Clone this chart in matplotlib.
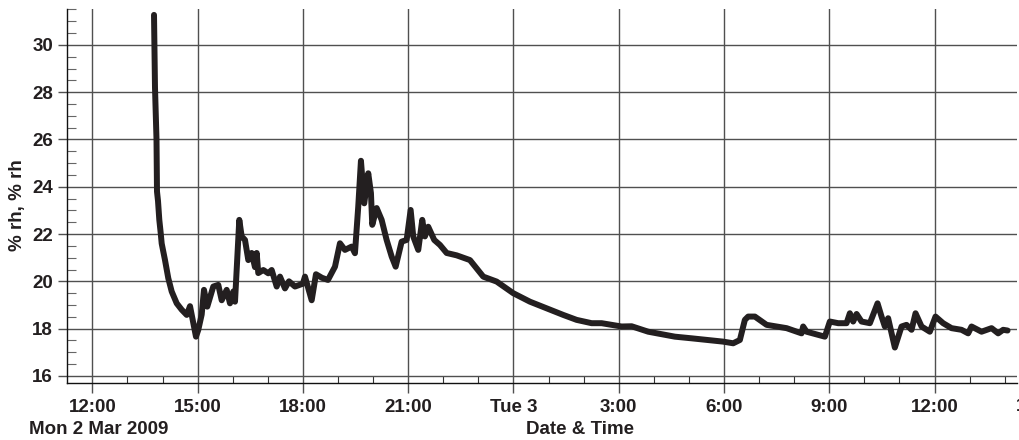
import matplotlib
matplotlib.use('Agg')
import matplotlib.pyplot as plt
import matplotlib.dates as mdates
import matplotlib.ticker as mticker
import pandas as pd

# hours since Mon 2 Mar 2009 00:00
hours = [13.758, 13.786, 13.815, 13.829, 13.843, 13.872, 13.909, 13.949, 13.977, 14.071,
         14.165, 14.262, 14.405, 14.547, 14.690, 14.784, 14.878, 14.954, 15.020, 15.117,
         15.182, 15.276, 15.447, 15.590, 15.687, 15.829, 15.923, 16.017, 16.066, 16.114,
         16.188, 16.256, 16.351, 16.445, 16.541, 16.635, 16.684, 16.729, 16.872, 17.014,
         17.111, 17.254, 17.348, 17.490, 17.604, 17.775, 18.000, 18.060, 18.251, 18.373,
         18.544, 18.715, 18.915, 19.057, 19.199, 19.390, 19.484, 19.578, 19.655, 19.749,
         19.863, 19.940, 19.977, 20.103, 20.245, 20.387, 20.530, 20.644, 20.815, 20.957,
         21.071, 21.145, 21.288, 21.402, 21.478, 21.572, 21.744, 21.906, 22.097, 22.382,
         22.761, 23.140, 23.522, 23.994, 24.470, 24.946, 25.419, 25.801, 26.228, 26.513,
         27.083, 27.368, 27.841, 28.601, 29.077, 29.977, 30.262, 30.453, 30.595, 30.690,
         30.880, 31.214, 31.784, 32.211, 32.256, 32.353, 32.875, 33.017, 33.254, 33.493,
         33.587, 33.681, 33.778, 33.920, 34.157, 34.376, 34.490, 34.584, 34.678, 34.869,
         35.060, 35.202, 35.345, 35.459, 35.630, 35.866, 36.028, 36.245, 36.484, 36.769,
         36.958, 37.054, 37.339, 37.625, 37.813, 37.955, 38.081]
rh = [31.27, 28.2, 26.8, 26.0, 23.8, 23.4, 22.6, 22.04, 21.6, 20.9,
      20.13, 19.57, 19.07, 18.8, 18.58, 18.95, 18.23, 17.66, 17.95, 18.6,
      19.64, 18.93, 19.78, 19.85, 19.2, 19.64, 19.07, 19.57, 19.14, 20.48,
      22.6, 21.9, 21.75, 20.9, 21.2, 20.6, 21.2, 20.35, 20.48, 20.34,
      20.48, 19.78, 20.2, 19.7, 20.0, 19.78, 19.9, 20.2, 19.2, 20.3,
      20.15, 20.06, 20.62, 21.61, 21.33, 21.47, 21.19, 23.16, 25.1, 23.3,
      24.57, 23.73, 22.39, 23.1, 22.6, 21.75, 21.05, 20.62, 21.68, 21.75,
      23.02, 21.9, 21.33, 22.6, 21.9, 22.31, 21.75, 21.54, 21.2, 21.1,
      20.9, 20.2, 19.99, 19.5, 19.14, 18.86, 18.58, 18.37, 18.23, 18.23,
      18.09, 18.1, 17.87, 17.66, 17.59, 17.45, 17.38, 17.52, 18.37, 18.51,
      18.51, 18.16, 18.02, 17.8, 18.09, 17.87, 17.66, 18.3, 18.23, 18.23,
      18.65, 18.3, 18.62, 18.3, 18.23, 19.07, 18.51, 18.09, 18.44, 17.2,
      18.09, 18.16, 17.95, 18.65, 18.09, 17.87, 18.51, 18.23, 18.02, 17.95,
      17.8, 18.09, 17.87, 18.02, 17.8, 17.95, 17.92]

plt.rcParams['font.family'] = ['Liberation Sans', 'DejaVu Sans']
plt.rcParams['font.weight'] = 'bold'
ink = '#231f20'
grid_col = '#505050'

base = pd.Timestamp('2009-03-02')
times = base + pd.to_timedelta(hours, unit='h')

fig = plt.figure(figsize=(10.2, 4.4), dpi=100)
ax = fig.add_axes([66.7 / 1020, 1 - 383 / 440, (1017 - 66.7) / 1020, (383 - 9) / 440])

ax.plot(times, rh, color=ink, lw=4.3, solid_joinstyle='round', solid_capstyle='round', zorder=3)

ax.set_xlim(base + pd.Timedelta(hours=11.27), base + pd.Timedelta(hours=38.35))
ax.set_ylim(15.70, 31.52)


def fmt(x, pos):
    d = mdates.num2date(x)
    if d.hour == 0:
        return d.strftime('%a ') + str(d.day)
    return f'{d.hour}:00'


ax.xaxis.set_major_locator(mdates.HourLocator(byhour=range(0, 24, 3)))
ax.xaxis.set_minor_locator(mdates.HourLocator())
ax.xaxis.set_major_formatter(mticker.FuncFormatter(fmt))
ax.yaxis.set_major_locator(mticker.MultipleLocator(2))
ax.yaxis.set_minor_locator(mticker.MultipleLocator(0.5))

ax.grid(which='major', color=grid_col, lw=1.0)
ax.set_axisbelow(True)

ax.tick_params(axis='x', which='major', direction='out', length=7.2, width=1.0,
               color=grid_col, pad=4.3, labelsize=13.5, labelcolor=ink)
ax.tick_params(axis='x', which='minor', direction='in', length=5, width=0.8, color='#333333')
ax.tick_params(axis='y', which='major', direction='out', length=6.3, width=1.0,
               color=grid_col, pad=3.6, labelsize=13.5, labelcolor=ink)
ax.tick_params(axis='y', which='minor', direction='in', length=6.5, width=0.8, color='#666666')

for s in ['top', 'right']:
    ax.spines[s].set_visible(False)
for s in ['left', 'bottom']:
    ax.spines[s].set_color('#111111')
    ax.spines[s].set_linewidth(1.0)

fig.text(29 / 1020, 1 - 429 / 440, 'Mon 2 Mar 2009', ha='left', va='center',
         fontsize=13.5, weight='bold', color=ink)
fig.text(580 / 1020, 1 - 429 / 440, 'Date & Time', ha='center', va='center',
         fontsize=13.5, weight='bold', color=ink)
fig.text(18 / 1020, 1 - 205 / 440, '% rh, % rh', rotation=90, ha='center', va='center',
         fontsize=13.5, weight='bold', color=ink)
# partly visible label of the next tick, cut by the right edge as in the original
fig.text(1040 / 1020, 1 - 406 / 440, '15:00', ha='center', va='center',
         fontsize=13.5, weight='bold', color=ink)

fig.savefig('out.png', dpi=100)
